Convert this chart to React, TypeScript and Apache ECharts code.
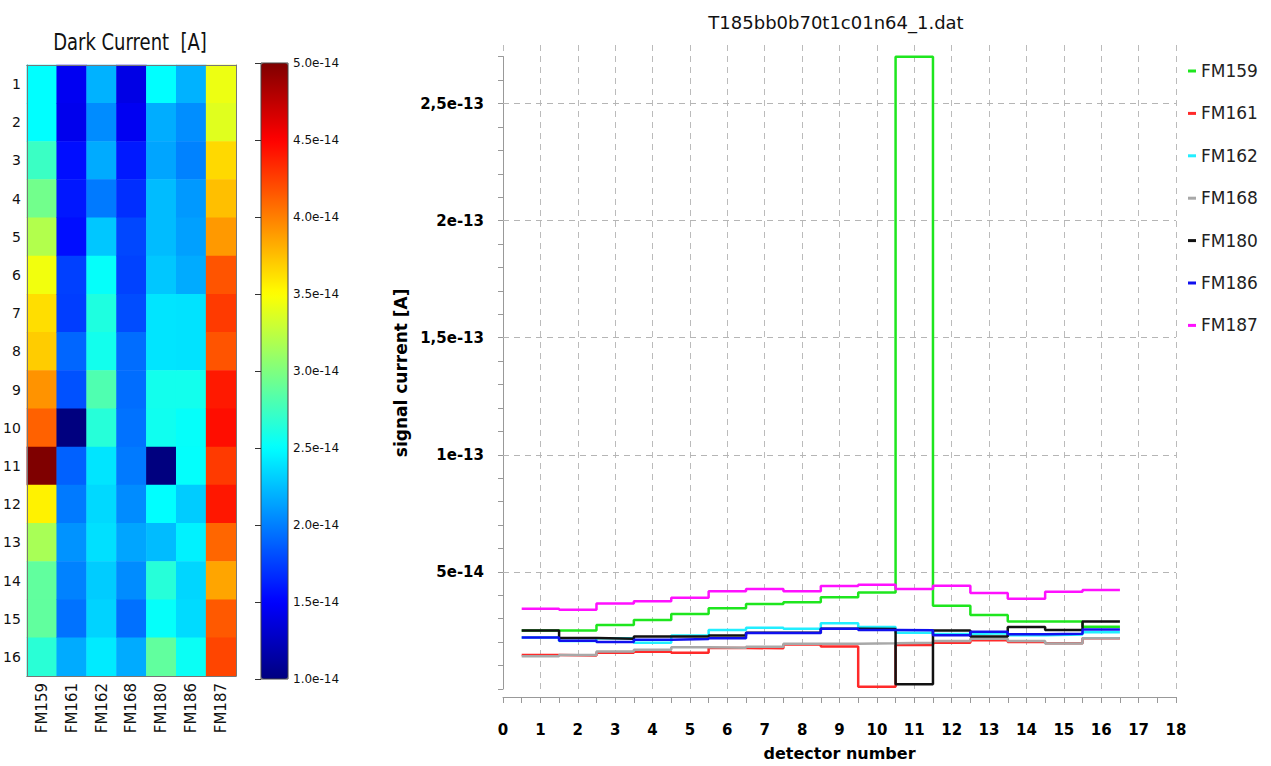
import React, { useEffect, useRef } from "react";
import * as echarts from "echarts";

// ---- data (currents in units of 1e-14 A) ----
const modules = ["FM159", "FM161", "FM162", "FM168", "FM180", "FM186", "FM187"];
const detectors = ["1", "2", "3", "4", "5", "6", "7", "8", "9", "10", "11", "12", "13", "14", "15", "16"];

const fm159 = [2.5, 2.5, 2.73, 2.95, 3.2, 3.45, 3.63, 3.7, 3.92, 4.12, 27.0, 3.55, 3.16, 2.88, 2.88, 2.66];
const fm161 = [1.45, 1.43, 1.55, 1.59, 1.55, 1.75, 1.74, 1.9, 1.82, 0.1, 1.88, 1.98, 2.08, 2.01, 1.95, 2.17];
const fm162 = [2.2, 2.05, 2.17, 1.98, 2.28, 2.52, 2.62, 2.57, 2.81, 2.65, 2.4, 2.35, 2.38, 2.3, 2.33, 2.42];
const fm168 = [1.4, 1.45, 1.6, 1.68, 1.78, 1.76, 1.8, 1.93, 1.93, 1.95, 1.98, 2.05, 2.15, 2.05, 1.94, 2.17];
const fm180 = [2.5, 2.18, 2.15, 2.24, 2.24, 2.28, 2.4, 2.4, 2.57, 2.56, 0.2, 2.5, 2.24, 2.65, 2.52, 2.88];
const fm186 = [2.2, 2.06, 2.01, 2.1, 2.13, 2.17, 2.39, 2.39, 2.57, 2.52, 2.51, 2.3, 2.45, 2.34, 2.36, 2.54];
const fm187 = [3.43, 3.38, 3.65, 3.75, 3.9, 4.17, 4.27, 4.17, 4.4, 4.45, 4.27, 4.41, 4.1, 3.85, 4.15, 4.23];

const moduleValues = [fm159, fm161, fm162, fm168, fm180, fm186, fm187];
const lineColors = ["#1ee61e", "#ff2a2a", "#22eeff", "#a8a8a8", "#111111", "#1010ee", "#ff10ff"];

const signalTicks = [5, 10, 15, 20, 25];
const signalTickLabels = ["5e-14", "1e-13", "1,5e-13", "2e-13", "2,5e-13"];

const colorbarMin = 1;
const colorbarMax = 5;
const jet = ["#00007f", "#0000ff", "#007fff", "#00ffff", "#7fff7f", "#ffff00", "#ff7f00", "#ff0000", "#7f0000"];

const mainTitle = "T185bb0b70t1c01n64_1.dat";
const heatTitle = "Dark Current  [A]";

export default function App() {
  const ref = useRef<HTMLDivElement>(null);

  useEffect(() => {
    if (!ref.current) return;
    const chart = echarts.init(ref.current, undefined, { renderer: "svg" });

    const heatData: any[] = [];
    moduleValues.forEach((vals, m) => {
      vals.forEach((v, d) => {
        heatData.push([m, d, Math.min(colorbarMax, Math.max(colorbarMin, v))]);
      });
    });

    const stepData = (vals: number[]) => {
      const pts: number[][] = [];
      vals.forEach((v, i) => {
        const det = i + 1;
        pts.push([det - 0.5, v]);
        pts.push([det + 0.5, v]);
      });
      return pts;
    };

    const lineSeries = modules.map((name, i) => ({
      name,
      type: "line",
      xAxisIndex: 3,
      yAxisIndex: 3,
      data: stepData(moduleValues[i]),
      symbol: "none",
      lineStyle: { width: 2.5, color: lineColors[i] },
      itemStyle: { color: lineColors[i] },
      z: 3,
      ...(i === 0
        ? {
            markLine: {
              silent: true,
              symbol: "none",
              animation: false,
              label: { show: false },
              lineStyle: { color: "#b5b5b5", width: 1, type: [6, 5] },
              data: signalTicks.map((t) => ({ yAxis: t })),
              z: 1,
            },
          }
        : {}),
    }));

    const lineYMax = 27.5;
    const lineTop = 45;
    const lineBottom = 77;
    const plotH = 766 - lineTop - lineBottom;
    const axisTop = lineTop + ((lineYMax - 27) / lineYMax) * plotH;

    const option: any = {
      animation: false,
      backgroundColor: "#ffffff",
      textStyle: { fontFamily: "DejaVu Sans" },
      graphic: [
        {
          type: "text",
          x: 836,
          y: 22,
          style: {
            text: mainTitle,
            font: '18px "DejaVu Sans"',
            fill: "#111",
            align: "center",
            verticalAlign: "middle",
          },
        },
        {
          type: "text",
          x: 130,
          y: 42,
          scaleY: 1.25,
          style: {
            text: heatTitle,
            font: '18px "DejaVu Sans"',
            fill: "#111",
            align: "center",
            verticalAlign: "middle",
          },
        },
      ],
      legend: {
        data: modules,
        orient: "vertical",
        left: 1183,
        top: 56,
        icon: "rect",
        itemWidth: 8,
        itemHeight: 3,
        itemGap: 22.4,
        selectedMode: false,
        textStyle: { fontSize: 17, color: "#222", fontFamily: "DejaVu Sans", lineHeight: 20 },
      },
      visualMap: {
        type: "continuous",
        seriesIndex: 0,
        dimension: 2,
        min: colorbarMin,
        max: colorbarMax,
        calculable: false,
        hoverLink: false,
        orient: "vertical",
        left: 261,
        top: 63,
        itemWidth: 27,
        itemHeight: 616,
        padding: 0,
        inRange: { color: jet },
      },
      grid: [
        { left: 24, top: 65, width: 212, height: 611 },
        { left: 261, top: 63, width: 27, height: 616, show: true, borderColor: "#444", borderWidth: 1, z: 10 },
        { left: 503, right: 95, top: lineTop, bottom: lineBottom },
        { left: 503, right: 95, top: axisTop, bottom: lineBottom },
      ],
      xAxis: [
        {
          type: "category",
          gridIndex: 0,
          data: modules,
          position: "bottom",
          z: 10,
          axisLine: { lineStyle: { color: "#777" } },
          axisTick: { inside: true, alignWithLabel: true, length: 6, lineStyle: { color: "#333" } },
          axisLabel: { rotate: 90, fontSize: 15, color: "#111", fontFamily: "DejaVu Sans", margin: 7 },
          splitLine: { show: false },
        },
        {
          type: "category",
          gridIndex: 0,
          data: modules,
          position: "top",
          z: 10,
          axisLine: { lineStyle: { color: "#777" } },
          axisTick: { inside: true, alignWithLabel: true, length: 6, lineStyle: { color: "#333" } },
          axisLabel: { show: false },
          splitLine: { show: false },
        },
        { type: "value", gridIndex: 1, min: 0, max: 1, show: false },
        {
          type: "value",
          gridIndex: 2,
          min: 0,
          max: 18,
          interval: 1,
          offset: 8,
          axisLine: { onZero: false, lineStyle: { color: "#999" } },
          axisTick: { length: 6, lineStyle: { color: "#999" } },
          minorTick: { show: true, splitNumber: 2, length: 6, lineStyle: { color: "#999" } },
          axisLabel: { fontWeight: "bold", fontSize: 15, color: "#000", fontFamily: "DejaVu Sans", margin: 25 },
          splitLine: { show: true, lineStyle: { color: "#bbb", width: 1, type: [6, 5] } },
          name: "detector number",
          nameLocation: "middle",
          nameGap: 48,
          nameTextStyle: { fontWeight: "bold", fontSize: 16, color: "#000", fontFamily: "DejaVu Sans" },
        },
        { type: "value", gridIndex: 3, min: 0, max: 1, show: false },
      ],
      yAxis: [
        {
          type: "category",
          gridIndex: 0,
          data: detectors,
          inverse: true,
          position: "left",
          z: 10,
          axisLine: { lineStyle: { color: "#777" } },
          axisTick: { inside: true, alignWithLabel: true, length: 6, lineStyle: { color: "#333" } },
          axisLabel: { fontSize: 14, color: "#111", fontFamily: "DejaVu Sans", margin: 6 },
          splitLine: { show: false },
        },
        {
          type: "category",
          gridIndex: 0,
          data: detectors,
          inverse: true,
          position: "right",
          z: 10,
          axisLine: { lineStyle: { color: "#777" } },
          axisTick: { inside: true, alignWithLabel: true, length: 6, lineStyle: { color: "#333" } },
          axisLabel: { show: false },
          splitLine: { show: false },
        },
        {
          type: "value",
          gridIndex: 1,
          min: colorbarMin,
          max: colorbarMax,
          interval: 0.5,
          position: "right",
          z: 10,
          axisLine: { show: false },
          axisTick: { show: true, inside: true, length: 6, lineStyle: { color: "#333" } },
          axisLabel: {
            fontSize: 12,
            color: "#111",
            fontFamily: "DejaVu Sans",
            margin: 5,
            formatter: (v: number) => v.toFixed(1) + "e-14",
          },
          splitLine: { show: false },
        },
        { type: "value", gridIndex: 2, min: 0, max: lineYMax, show: false },
        {
          type: "value",
          gridIndex: 3,
          min: 0,
          max: 27,
          interval: 1,
          offset: 10,
          axisLine: { show: true, lineStyle: { color: "#999" } },
          axisTick: { show: true, length: 5, lineStyle: { color: "#999" } },
          axisLabel: {
            fontWeight: "bold",
            fontSize: 15,
            color: "#000",
            fontFamily: "DejaVu Sans",
            margin: 9,
            formatter: (v: number) => {
              const k = signalTicks.indexOf(Math.round(v * 1000) / 1000);
              return k >= 0 ? signalTickLabels[k] : "";
            },
          },
          splitLine: { show: false },
          name: "signal current [A]",
          nameLocation: "middle",
          nameGap: 78,
          nameTextStyle: { fontWeight: "bold", fontSize: 17, color: "#000", fontFamily: "DejaVu Sans" },
        },
      ],
      series: [
        {
          name: "Dark Current",
          type: "heatmap",
          xAxisIndex: 0,
          yAxisIndex: 0,
          data: heatData,
          itemStyle: { borderWidth: 0 },
          emphasis: { disabled: true },
        },
        ...lineSeries,
      ],
    };

    chart.setOption(option);
    return () => chart.dispose();
  }, []);

  return (
    <div
      ref={ref}
      style={{ position: "absolute", left: 0, top: 0, width: 1271, height: 766 }}
    />
  );
}
